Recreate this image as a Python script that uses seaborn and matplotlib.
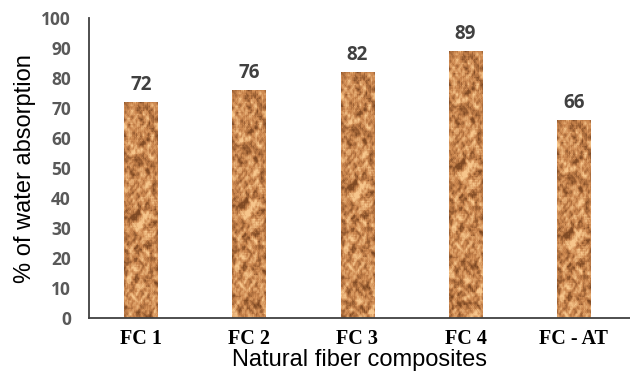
import numpy as np
import pandas as pd
import matplotlib
matplotlib.use("Agg")
import matplotlib.pyplot as plt
import seaborn as sns

categories = ["FC 1", "FC 2", "FC 3", "FC 4", "FC - AT"]
absorption = [72, 76, 82, 89, 66]
y_ticks = [0, 10, 20, 30, 40, 50, 60, 70, 80, 90, 100]

df = pd.DataFrame({"cat": categories, "val": absorption})

sns.set_style("white")
plt.rcParams["font.family"] = ["Liberation Sans", "DejaVu Sans"]

fig = plt.figure(figsize=(6.3, 3.74), dpi=100)
ax = fig.add_axes([0.1413, 0.1497, 0.8587, 0.8013])

sns.barplot(data=df, x="cat", y="val", color="#c8844c", width=0.31,
            saturation=1, ax=ax, edgecolor="none")

# cork-like texture (purely decorative), deterministic integer-hash noise
h, w = 230, 34
yy, xx = np.mgrid[0:h, 0:w].astype(np.uint64)
v = (xx * np.uint64(374761393) + yy * np.uint64(668265263)) & np.uint64(0xFFFFFFFF)
v = ((v ^ (v >> np.uint64(13))) * np.uint64(1274126177)) & np.uint64(0xFFFFFFFF)
v = v ^ (v >> np.uint64(16))
n = (v & np.uint64(0xFFFF)).astype(float) / 65535.0


def blur(a, r):
    p = np.pad(a, r, mode="wrap")
    hh, ww = a.shape
    return sum(p[i:i + hh, j:j + ww] for i in range(2 * r + 1) for j in range(2 * r + 1)) / (2 * r + 1) ** 2


b1 = blur(n, 1); b1 = (b1 - b1.mean()) / b1.std()
b2 = blur(n, 3); b2 = (b2 - b2.mean()) / b2.std()
tex = 0.5 + 0.16 * b1 + 0.08 * b2 + 0.08 * (n - 0.5) * 2
dark = np.array([0.50, 0.29, 0.14])
mid = np.array([0.80, 0.53, 0.31])
light = np.array([0.97, 0.78, 0.55])
t = np.clip(tex, 0, 1)[..., None]
rgb = np.where(t < 0.5, dark + (mid - dark) * (t / 0.5), mid + (light - mid) * ((t - 0.5) / 0.5))
rgb = np.clip(rgb, 0, 1)

for p in list(ax.patches):
    x0 = p.get_x(); x1 = x0 + p.get_width()
    y1 = p.get_height()
    rows = int(round(h * y1 / 100))
    im = ax.imshow(rgb[:rows], extent=[x0, x1, 0, y1], aspect="auto", zorder=p.get_zorder() + 0.1,
                   interpolation="antialiased")
    im.set_clip_path(p)
    ax.annotate(f"{int(round(y1))}", (x0 + p.get_width() / 2, y1), xytext=(0, 5),
                textcoords="offset points", ha="center", va="bottom",
                fontsize=13.5, fontweight="bold", color="#404040",
                family=["Open Sans", "DejaVu Sans"])

ax.set_xlim(-0.48, 4.52)
ax.set_ylim(0, 100)
ax.set_yticks(y_ticks)
ax.set_yticklabels([str(v) for v in y_ticks], fontsize=12.5, fontweight="bold",
                   color="#595959", family=["Open Sans", "DejaVu Sans"])
ax.set_xticks(range(len(categories)))
ax.set_xticklabels(categories, fontsize=14.5, fontweight="bold", color="black",
                   family=["Liberation Serif", "DejaVu Serif"])
ax.tick_params(axis="y", length=0, pad=13)
ax.tick_params(axis="x", length=0, pad=8)

ax.set_xlabel("Natural fiber composites", fontsize=17, color="black", labelpad=0)
ax.set_ylabel("% of water absorption", fontsize=17, color="black", labelpad=4)

for s in ["top", "right"]:
    ax.spines[s].set_visible(False)
for s in ["left", "bottom"]:
    ax.spines[s].set_color("#404040")
    ax.spines[s].set_linewidth(1.3)

fig.savefig("out.png", dpi=100)
